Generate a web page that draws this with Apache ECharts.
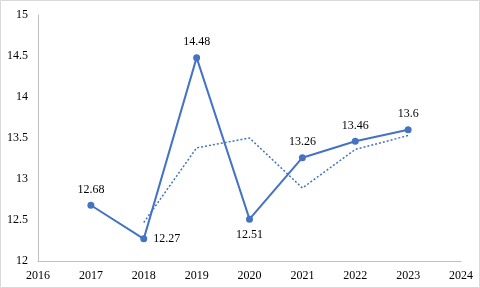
<!DOCTYPE html>
<html>
<head>
<meta charset="utf-8">
<script src="https://cdn.jsdelivr.net/npm/echarts@6/dist/echarts.min.js"></script>
<style>
  html, body { margin: 0; padding: 0; background: #fff; }
</style>
</head>
<body>
<div id="lineChart" style="width: 480px;height: 288px;"></div>
<script>
// data
const years = [2017, 2018, 2019, 2020, 2021, 2022, 2023];
const values = [12.68, 12.27, 14.48, 12.51, 13.26, 13.46, 13.6];
const trendYears = [2018, 2019, 2020, 2021, 2022, 2023];
const trendValues = [12.47, 13.38, 13.5, 12.89, 13.36, 13.53];
// label side for each point
const labelPos = ['top', 'right', 'top', 'bottom', 'top', 'top', 'top'];

const blue = '#4472C4';
const font = '"Liberation Serif", "DejaVu Serif", serif';

let mainData = years.map((y, i) => ({
  value: [y, values[i]],
  label: {position: labelPos[i]}
}));
let trendData = trendYears.map((y, i) => [y, trendValues[i]]);

let option = {
  animation: false,
  textStyle: {fontFamily: font},
  grid: {left: 38, right: 19, top: 15, bottom: 27},
  graphic: [{
    type: 'rect',
    shape: {x: 0.5, y: 0.5, width: 479, height: 287},
    style: {fill: 'none', stroke: '#d9d9d9', lineWidth: 1},
    silent: true
  }],
  xAxis: {
    type: 'value',
    min: 2016,
    max: 2024,
    interval: 1,
    axisLine: {lineStyle: {color: '#bfbfbf', width: 1}},
    axisTick: {show: false},
    splitLine: {show: false},
    axisLabel: {
      color: '#000', fontSize: 12, fontFamily: font, margin: 9,
      formatter: v => String(v)
    }
  },
  yAxis: {
    type: 'value',
    min: 12,
    max: 15,
    interval: 0.5,
    axisLine: {show: true, lineStyle: {color: '#bfbfbf', width: 1}},
    axisTick: {show: false},
    splitLine: {show: false},
    axisLabel: {color: '#000', fontSize: 12, fontFamily: font, margin: 10}
  },
  series: [
    {
      type: 'line',
      data: trendData,
      symbol: 'none',
      lineStyle: {color: blue, width: 1.5, type: [2, 2]},
      z: 1
    },
    {
      type: 'line',
      data: mainData,
      symbol: 'circle',
      symbolSize: 7,
      itemStyle: {color: blue},
      lineStyle: {color: blue, width: 2},
      label: {
        show: true,
        color: '#000',
        fontSize: 12,
        fontFamily: font,
        distance: 6,
        formatter: p => p.value[1]
      },
      z: 2
    }
  ]
};

let chart = echarts.init(document.getElementById('lineChart'));
chart.setOption(option);
</script>
</body>
</html>
